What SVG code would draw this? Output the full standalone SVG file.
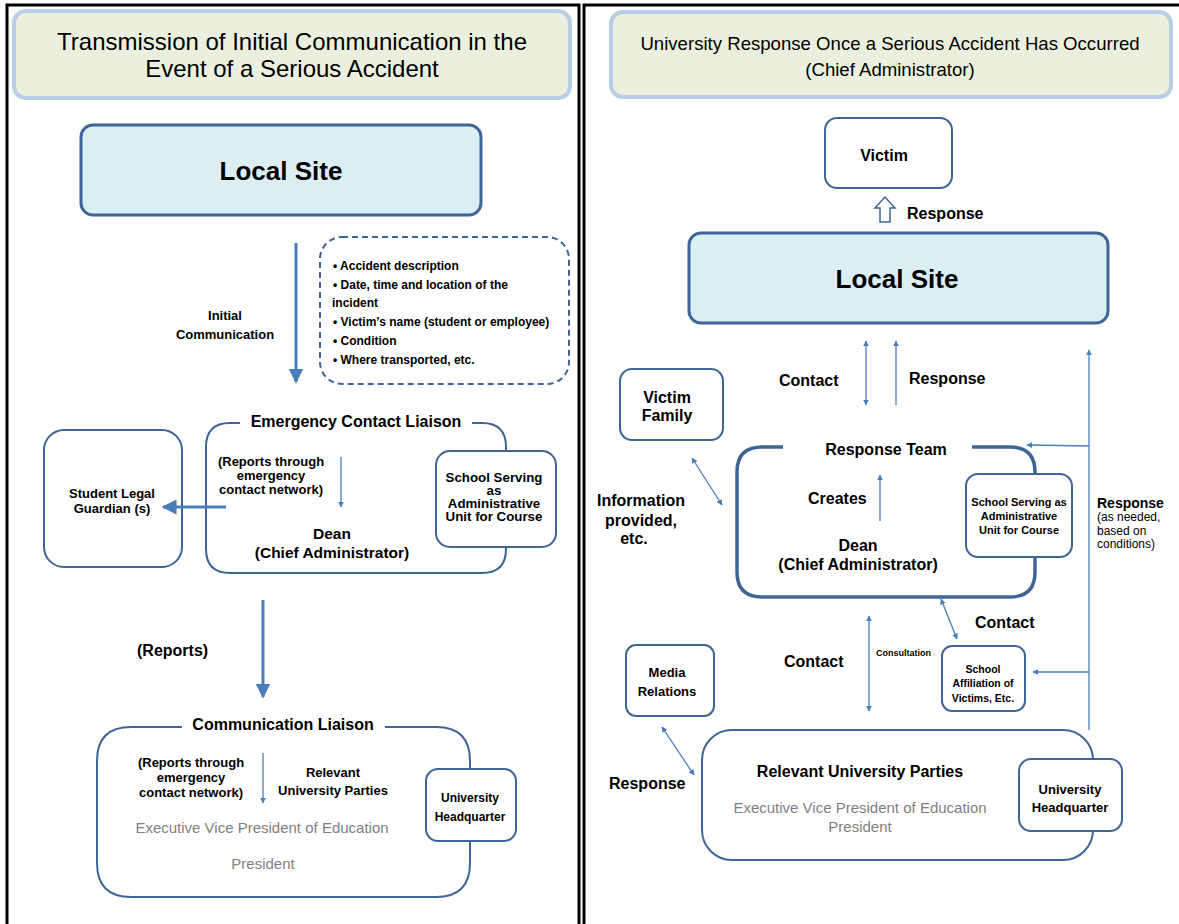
<svg xmlns="http://www.w3.org/2000/svg" width="1179" height="924" viewBox="0 0 1179 924">
<defs>
  <style>
    text { font-family: "Liberation Sans", Arial, sans-serif; fill: #000; }
    .b { font-weight: bold; }
    .c { text-anchor: middle; }
    .grey { fill: #7f7f7f; }
    .frame { fill: none; stroke: #000; stroke-width: 3; }
    .title { fill: #EBF0DE; stroke: #B9CDE5; stroke-width: 4; }
    .site { fill: #DBEEF4; stroke: #3F6596; stroke-width: 3; }
    .box { fill: #fff; stroke: #3F6596; stroke-width: 2; }
    .open { fill: none; stroke: #3F6596; stroke-width: 2; }
    .thick { stroke-width: 3.5; }
    .dash { fill: #fff; stroke: #3F6596; stroke-width: 2; stroke-dasharray: 6 4; }
    .arr { fill: none; stroke: #4A7EBB; stroke-width: 1.3; }
    .arrB { fill: none; stroke: #4A7EBB; stroke-width: 3; }
  </style>
  <marker id="ah" viewBox="0 0 10 10" refX="9" refY="5" markerWidth="6" markerHeight="6" orient="auto-start-reverse" markerUnits="userSpaceOnUse">
    <path d="M0,0 L10,5 L0,10 z" fill="#4A7EBB"/>
  </marker>
  <marker id="ahB" viewBox="0 0 10 10" refX="9" refY="5" markerWidth="5" markerHeight="5" orient="auto-start-reverse">
    <path d="M0,0 L10,5 L0,10 z" fill="#4A7EBB"/>
  </marker>
</defs>

<!-- page frames -->
<g id="frames">
  <path class="frame" d="M7,924 V5 H579 V924"/>
  <path class="frame" d="M584,924 V5 H1179"/>
</g>

<!-- ===== Left panel ===== -->
<g id="title-left">
  <rect class="title" x="14" y="11" width="556" height="87" rx="12"/>
  <text class="c" x="292" y="50" font-size="24">Transmission of Initial Communication in the</text>
  <text class="c" x="292" y="77" font-size="24">Event of a Serious Accident</text>
</g>

<g id="local-site-left">
  <rect class="site" x="81" y="125" width="400" height="90" rx="12"/>
  <text class="b c" x="281" y="180" font-size="26">Local Site</text>
</g>

<g id="info-list">
  <rect class="dash" x="320" y="237" width="249" height="147" rx="22"/>
  <g font-size="12">
    <text class="b" x="333" y="270">•  Accident description</text>
    <text class="b" x="333" y="289">•  Date, time and location of the</text>
    <text class="b" x="332" y="307">incident</text>
    <text class="b" x="333" y="326">•  Victim’s name (student or employee)</text>
    <text class="b" x="333" y="345">•  Condition</text>
    <text class="b" x="333" y="364">•  Where transported, etc.</text>
  </g>
</g>

<g id="guardian">
  <rect class="box" x="44" y="430" width="138" height="137" rx="20"/>
  <text class="b c" x="112" y="498" font-size="13">Student Legal</text>
  <text class="b c" x="112" y="513" font-size="13">Guardian (s)</text>
</g>

<g id="emergency-liaison">
  <path class="open" d="M240,423 H230 Q206,423 206,447 V549 Q206,573 230,573 H482 Q506,573 506,549 V447 Q506,423 482,423 H472"/>
  <text class="b c" x="356" y="427" font-size="16">Emergency Contact Liaison</text>
  <text class="b c" x="271" y="466" font-size="13">(Reports through</text>
  <text class="b c" x="271" y="480" font-size="13">emergency</text>
  <text class="b c" x="271" y="494" font-size="13">contact network)</text>
  <text class="b c" x="332" y="539" font-size="15.5">Dean</text>
  <text class="b c" x="332" y="558" font-size="15.5">(Chief Administrator)</text>
</g>

<g id="school-left">
  <rect class="box" x="436" y="451" width="120" height="96" rx="14"/>
  <text class="b c" x="494" y="482" font-size="13.3">School Serving</text>
  <text class="b c" x="494" y="495" font-size="13.3">as</text>
  <text class="b c" x="494" y="508" font-size="13.3">Administrative</text>
  <text class="b c" x="494" y="521" font-size="13.3">Unit for Course</text>
</g>

<g id="comm-liaison">
  <path class="open" d="M182,727 H131 Q97,727 97,761 V863 Q97,897 131,897 H436 Q470,897 470,863 V761 Q470,727 436,727 H385"/>
  <text class="b c" x="283" y="730" font-size="16">Communication Liaison</text>
  <text class="b c" x="191" y="767" font-size="13">(Reports through</text>
  <text class="b c" x="191" y="782" font-size="13">emergency</text>
  <text class="b c" x="191" y="797" font-size="13">contact network)</text>
  <text class="b c" x="333" y="777" font-size="13">Relevant</text>
  <text class="b c" x="333" y="795" font-size="13">University Parties</text>
  <text class="grey c" x="262" y="833" font-size="15">Executive Vice President of Education</text>
  <text class="grey c" x="263" y="869" font-size="15">President</text>
</g>

<g id="hq-left">
  <rect class="box" x="426" y="769" width="90" height="72" rx="12"/>
  <text class="b c" x="470" y="802" font-size="12">University</text>
  <text class="b c" x="470" y="821" font-size="12">Headquarter</text>
</g>

<g id="labels-left">
  <text class="b c" x="225" y="320" font-size="13">Initial</text>
  <text class="b c" x="225" y="339" font-size="13">Communication</text>
  <text class="b" x="137" y="656" font-size="16">(Reports)</text>
</g>

<!-- ===== Right panel ===== -->
<g id="title-right">
  <rect class="title" x="611" y="12" width="560" height="85" rx="12"/>
  <text class="c" x="890" y="50" font-size="18.6">University Response Once a Serious Accident Has Occurred</text>
  <text class="c" x="890" y="76" font-size="18.6">(Chief Administrator)</text>
</g>

<g id="victim">
  <rect class="box" x="825" y="118" width="127" height="70" rx="12"/>
  <text class="b c" x="884" y="161" font-size="16">Victim</text>
</g>

<g id="local-site-right">
  <rect class="site" x="689" y="233" width="419" height="90" rx="12"/>
  <text class="b c" x="897" y="288" font-size="26">Local Site</text>
</g>

<g id="victim-family">
  <rect class="box" x="620" y="369" width="103" height="71" rx="12"/>
  <text class="b c" x="667" y="403" font-size="16">Victim</text>
  <text class="b c" x="667" y="421" font-size="16">Family</text>
</g>

<g id="response-team">
  <path class="open thick" d="M783,447 H762 Q737,447 737,472 V572 Q737,597 762,597 H1010 Q1035,597 1035,572 V472 Q1035,447 1010,447 H972"/>
  <text class="b c" x="886" y="455" font-size="16">Response Team</text>
  <text class="b" x="808" y="504" font-size="16">Creates</text>
  <text class="b c" x="858" y="551" font-size="16">Dean</text>
  <text class="b c" x="858" y="570" font-size="16">(Chief Administrator)</text>
</g>

<g id="school-right">
  <rect class="box" x="966" y="474" width="106" height="83" rx="12"/>
  <text class="b c" x="1019" y="506" font-size="11">School Serving as</text>
  <text class="b c" x="1019" y="520" font-size="11">Administrative</text>
  <text class="b c" x="1019" y="534" font-size="11">Unit for Course</text>
</g>

<g id="affiliation">
  <rect class="box" x="942" y="646" width="83" height="65" rx="10"/>
  <text class="b c" x="983" y="673" font-size="10.5">School</text>
  <text class="b c" x="983" y="687" font-size="10.5">Affiliation of</text>
  <text class="b c" x="983" y="702" font-size="10.5">Victims, Etc.</text>
</g>

<g id="media">
  <rect class="box" x="626" y="645" width="88" height="71" rx="10"/>
  <text class="b c" x="667" y="677" font-size="13">Media</text>
  <text class="b c" x="667" y="696" font-size="13">Relations</text>
</g>

<g id="parties-right">
  <rect class="box" x="702" y="730" width="391" height="130" rx="30"/>
  <text class="b c" x="860" y="777" font-size="16">Relevant University Parties</text>
  <text class="grey c" x="860" y="813" font-size="15">Executive Vice President of Education</text>
  <text class="grey c" x="860" y="832" font-size="15">President</text>
</g>

<g id="hq-right">
  <rect class="box" x="1019" y="759" width="103" height="72" rx="12"/>
  <text class="b c" x="1070" y="794" font-size="13">University</text>
  <text class="b c" x="1070" y="812" font-size="13">Headquarter</text>
</g>

<g id="labels-right">
  <text class="b" x="907" y="219" font-size="16">Response</text>
  <text class="b" x="779" y="386" font-size="16">Contact</text>
  <text class="b" x="909" y="384" font-size="16">Response</text>
  <text class="b c" x="641" y="506" font-size="16">Information</text>
  <text class="b c" x="641" y="526" font-size="16">provided,</text>
  <text class="b c" x="634" y="544" font-size="16">etc.</text>
  <text class="b" x="1097" y="508" font-size="14">Response</text>
  <text x="1097" y="521" font-size="12">(as needed,</text>
  <text x="1097" y="535" font-size="12">based on</text>
  <text x="1097" y="548" font-size="12">conditions)</text>
  <text class="b" x="975" y="628" font-size="16">Contact</text>
  <text class="b" x="784" y="667" font-size="16">Contact</text>
  <text class="b" x="876" y="656" font-size="9">Consultation</text>
  <text class="b" x="609" y="789" font-size="16">Response</text>
</g>

<!-- connectors -->
<g id="connectors">
  <!-- left panel -->
  <line class="arrB" x1="296" y1="243" x2="296" y2="382" marker-end="url(#ahB)"/>
  <line class="arr" x1="341" y1="457" x2="341" y2="507" marker-end="url(#ah)"/>
  <line class="arrB" x1="226" y1="507" x2="163" y2="507" marker-end="url(#ahB)"/>
  <line class="arrB" x1="263" y1="600" x2="263" y2="697" marker-end="url(#ahB)"/>
  <line class="arr" x1="263" y1="753" x2="263" y2="803" marker-end="url(#ah)"/>

  <!-- right panel -->
  <path d="M880,222 V208 H875 L885,197 L895,208 H890 V222 Z" fill="#fff" stroke="#3F6596" stroke-width="1.5"/>
  <line class="arr" x1="866" y1="341" x2="866" y2="405" marker-start="url(#ah)" marker-end="url(#ah)"/>
  <line class="arr" x1="896" y1="405" x2="896" y2="341" marker-end="url(#ah)"/>
  <line class="arr" x1="692" y1="458" x2="722" y2="505" marker-start="url(#ah)" marker-end="url(#ah)"/>
  <line class="arr" x1="880" y1="521" x2="880" y2="475" marker-end="url(#ah)"/>
  <line class="arr" x1="1089" y1="730" x2="1089" y2="350" marker-end="url(#ah)"/>
  <line class="arr" x1="1089" y1="446" x2="1027" y2="445" marker-end="url(#ah)"/>
  <line class="arr" x1="1089" y1="672" x2="1033" y2="672" marker-end="url(#ah)"/>
  <line class="arr" x1="941" y1="599" x2="957" y2="639" marker-start="url(#ah)" marker-end="url(#ah)"/>
  <line class="arr" x1="869" y1="616" x2="869" y2="711" marker-start="url(#ah)" marker-end="url(#ah)"/>
  <line class="arr" x1="662" y1="727" x2="694" y2="775" marker-start="url(#ah)" marker-end="url(#ah)"/>
</g>
</svg>
